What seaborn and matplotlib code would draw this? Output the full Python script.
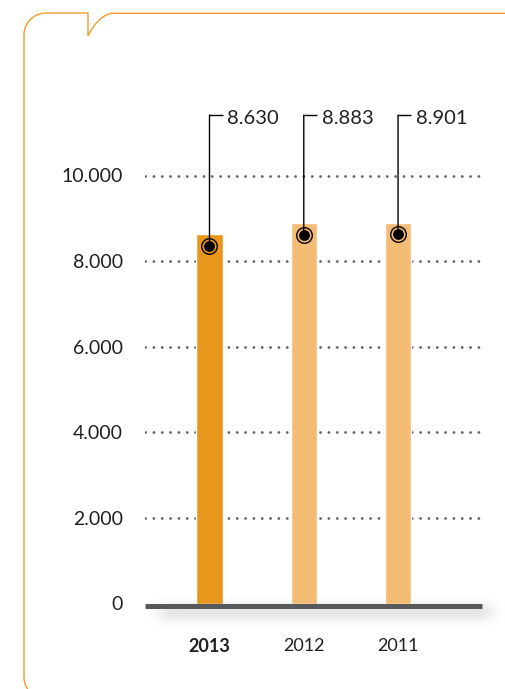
import numpy as np
import pandas as pd
import seaborn as sns
import matplotlib
matplotlib.use("Agg")
import matplotlib.pyplot as plt
from matplotlib import transforms
from matplotlib.patches import ConnectionPatch
from matplotlib.path import Path
from matplotlib.patches import PathPatch

# ---- data -------------------------------------------------------------
years = ["2013", "2012", "2011"]
values = [8630, 8883, 8901]
value_labels = ["8.630", "8.883", "8.901"]
y_ticks = [0, 2000, 4000, 6000, 8000, 10000]
y_tick_labels = ["0", "2.000", "4.000", "6.000", "8.000", "10.000"]

# ---- style -----------------------------------------------------------
ORANGE = "#E9961D"
LIGHT = "#F3BB74"
FRAME = "#F29B2F"
TEXT = "#231F20"
GRID = "#626366"
BASE = "#58595B"
bar_colors = [ORANGE, LIGHT, LIGHT]

sns.set_theme(style="white")
plt.rcParams["font.family"] = ["Lato", "DejaVu Sans"]

W, H, DPI = 506, 689, 100
fig = plt.figure(figsize=(W / DPI, H / DPI), dpi=DPI, facecolor="white")

# background layer in pixel units for the frame and the baseline shadow
bg = fig.add_axes([0, 0, 1, 1], zorder=0)
bg.set_xlim(0, W)
bg.set_ylim(H, 0)
bg.axis("off")

# rounded frame with a small speech-bubble notch
pts = [(46 + 22 * np.cos(a), 677 + 22 * np.sin(a))
       for a in np.linspace(np.pi / 2, np.pi, 20)]
pts += [(46 + 22 * np.cos(a), 35 + 22 * np.sin(a))
        for a in np.linspace(np.pi, 1.5 * np.pi, 20)]
pts += [(88, 13), (88, 36)]
codes = [Path.MOVETO] + [Path.LINETO] * (len(pts) - 1)
pts += [(97, 17), (111, 13.3)]
codes += [Path.CURVE3, Path.CURVE3]
pts += [(W + 10, 13.3)]
codes += [Path.LINETO]
bg.add_patch(PathPatch(Path(pts, codes), fill=False, edgecolor=FRAME, lw=1.0))

# soft shadow beneath the baseline
def blur1d(a, sigma, axis):
    r = int(3 * sigma)
    k = np.exp(-0.5 * (np.arange(-r, r + 1) / sigma) ** 2)
    k /= k.sum()
    return np.apply_along_axis(lambda m: np.convolve(m, k, mode="same"), axis, a)

sx0, sx1, sy0, sy1 = 130, 510, 596, 640
mask = np.zeros((sy1 - sy0, sx1 - sx0))
mask[608 - sy0:616 - sy0, 160 - sx0:492 - sx0] = 1.0
mask = blur1d(blur1d(mask, 6, 0), 7, 1)
img = np.zeros(mask.shape + (4,))
img[..., :3] = 0.55
img[..., 3] = mask * 0.45
bg.imshow(img, extent=(sx0, sx1, sy1, sy0), interpolation="bilinear", zorder=1)

# ---- main chart ------------------------------------------------------
ax_left, ax_right = 145, 485
ax_bottom, ax_top = 603.5, 89.9
ax = fig.add_axes([ax_left / W, (H - ax_bottom) / H,
                   (ax_right - ax_left) / W, (ax_bottom - ax_top) / H], zorder=2)
ax.patch.set_alpha(0)

df = pd.DataFrame({"year": years, "value": values})
sns.barplot(data=df, x="year", y="value", hue="year", palette=bar_colors,
            width=0.276, legend=False, ax=ax, saturation=1, zorder=2)

ax.set_xlim(-0.684, 2.922)
ax.set_ylim(0, 12000)

# dotted horizontal guides
for yv in y_ticks[1:]:
    ax.axhline(yv, color=GRID, lw=2.0, dashes=(0.05, 2.95),
               dash_capstyle="round", zorder=1)

# heavy baseline
base_tr = ax.get_yaxis_transform() + transforms.ScaledTranslation(0, -0.02, fig.dpi_scale_trans)
ax.plot([0, 0.991], [0, 0], transform=base_tr, color=BASE, lw=3.6,
        solid_capstyle="butt", zorder=3, clip_on=False)

for s in ax.spines.values():
    s.set_visible(False)

ax.set_yticks(y_ticks)
ax.set_yticklabels(y_tick_labels)
ax.set_xlabel("")
ax.set_ylabel("")
ax.tick_params(axis="y", length=0, pad=16, labelsize=14, labelcolor=TEXT)
ax.tick_params(axis="x", length=0, pad=25, labelsize=13, labelcolor=TEXT)
for lab in ax.get_xticklabels():
    if lab.get_text() == years[0]:
        lab.set_fontweight("bold")

# value markers with leader lines and labels
mark_tr = ax.transData + transforms.ScaledTranslation(0, -0.115, fig.dpi_scale_trans)
top_tr = transforms.blended_transform_factory(ax.transData, ax.transAxes)
LEAD_TOP = 0.9511
for i, (v, lab) in enumerate(zip(values, value_labels)):
    con = ConnectionPatch(xyA=(i, v), coordsA=mark_tr, xyB=(i, LEAD_TOP),
                          coordsB=top_tr, color="black", lw=1.0, zorder=4)
    ax.add_artist(con)
    ax.plot([i, i + 0.14], [LEAD_TOP, LEAD_TOP], transform=top_tr,
            color="black", lw=1.0, solid_capstyle="butt", zorder=4)
    ax.text(i + 0.188, LEAD_TOP, lab,
            transform=top_tr + transforms.ScaledTranslation(0, -0.035, fig.dpi_scale_trans),
            ha="left", va="center", fontsize=14.5, color=TEXT, zorder=5)
    ax.plot([i], [v], transform=mark_tr, marker="o", ms=11.2, mfc="none",
            mec="black", mew=1.0, zorder=5)
    ax.plot([i], [v], transform=mark_tr, marker="o", ms=7.8, mfc="black",
            mec="none", zorder=6)

fig.savefig("out.png", dpi=DPI, facecolor="white")
